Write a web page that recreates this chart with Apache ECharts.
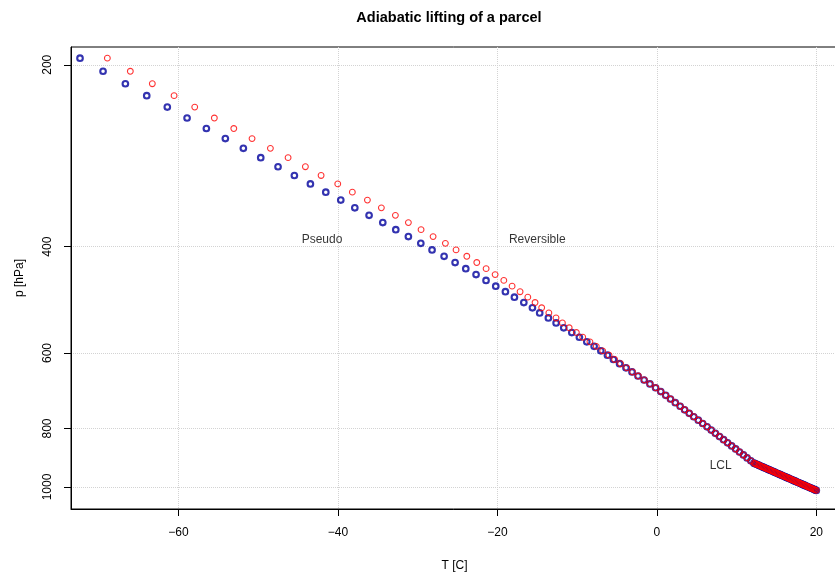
<!DOCTYPE html>
<html><head><meta charset="utf-8">
<script src="https://cdn.jsdelivr.net/npm/echarts@6/dist/echarts.min.js"></script>
<style>html,body{margin:0;padding:0;background:#fff}#c{width:835px;height:573px}</style>
</head><body><div id="c"></div>
<script>
// pressure levels [hPa]
const pressureLevels = [195,205,215,225,235,245,255,265,275,285,295,305,315,325,335,345,355,365,375,385,395,405,415,425,435,445,455,465,475,485,495,505,515,525,535,545,555,565,575,585,595,605,615,625,635,645,655,665,675,685,695,705,715,725,735,745,755,765,775,785,795,805,815,825,835,845,855,865,875,885,895,905,
913,915,917,919,921,923,925,927,929,931,933,935,937,939,941,943,945,947,949,951,953,955,957,959,961,963,965,967,969,971,973,975,977,979,981,983,985,987,989,991,993,995,997,999,1001,1003,1005,1007,1009,1011,1013];
// pseudo-adiabatic parcel temperature [C]
const tempPseudo = [-72.36,-69.47,-66.67,-63.99,-61.41,-58.93,-56.51,-54.13,-51.87,-49.69,-47.52,-45.47,-43.46,-41.53,-39.65,-37.89,-36.10,-34.38,-32.75,-31.17,-29.61,-28.20,-26.69,-25.31,-23.97,-22.68,-21.43,-20.21,-19.00,-17.87,-16.69,-15.61,-14.70,-13.61,-12.64,-11.68,-10.67,-9.72,-8.79,-7.87,-7.03,-6.20,-5.45,-4.68,-3.88,-3.12,-2.37,-1.60,-0.87,-0.16,0.49,1.11,1.71,2.31,2.92,3.48,4.06,4.63,5.20,5.75,6.30,6.82,7.34,7.86,8.37,8.87,9.38,9.88,10.37,10.86,11.32,11.79,
12.18,12.35,12.51,12.68,12.84,13.00,13.17,13.33,13.49,13.65,13.81,13.97,14.14,14.30,14.46,14.62,14.77,14.93,15.09,15.25,15.41,15.57,15.72,15.88,16.04,16.19,16.35,16.51,16.66,16.82,16.97,17.13,17.28,17.43,17.59,17.74,17.89,18.05,18.20,18.35,18.50,18.65,18.80,18.96,19.11,19.26,19.41,19.56,19.70,19.85,20.00];
// reversible-adiabatic parcel temperature [C]
const tempReversible = [-68.93,-66.05,-63.29,-60.56,-57.97,-55.51,-53.07,-50.78,-48.48,-46.26,-44.09,-42.12,-40.03,-38.20,-36.31,-34.56,-32.80,-31.17,-29.58,-28.07,-26.53,-25.19,-23.84,-22.59,-21.42,-20.29,-19.20,-18.16,-17.16,-16.19,-15.28,-14.45,-13.55,-12.65,-11.85,-11.00,-10.10,-9.30,-8.40,-7.60,-6.80,-6.00,-5.30,-4.55,-3.78,-3.05,-2.32,-1.58,-0.86,-0.15,0.49,1.11,1.71,2.31,2.92,3.48,4.06,4.63,5.20,5.75,6.30,6.82,7.34,7.86,8.37,8.87,9.38,9.88,10.37,10.86,11.32,11.79,
12.18,12.35,12.51,12.68,12.84,13.00,13.17,13.33,13.49,13.65,13.81,13.97,14.14,14.30,14.46,14.62,14.77,14.93,15.09,15.25,15.41,15.57,15.72,15.88,16.04,16.19,16.35,16.51,16.66,16.82,16.97,17.13,17.28,17.43,17.59,17.74,17.89,18.05,18.20,18.35,18.50,18.65,18.80,18.96,19.11,19.26,19.41,19.56,19.70,19.85,20.00];
const xTicks = [-60,-40,-20,0,20];
const yTicks = [200,400,600,800,1000];
const annotationText = ['Pseudo','Reversible','LCL'];
const annotationT = [-42,-15,8];
const annotationP = [390,390,921];

const FONT = '"Liberation Sans", Arial, Helvetica, sans-serif';
const pseudoData = pressureLevels.map((p,i)=>[tempPseudo[i], p]);
const revData = pressureLevels.map((p,i)=>[tempReversible[i], p]);
const annData = annotationText.map((t,i)=>({value:[annotationT[i], annotationP[i]], name:t}));

const chart = echarts.init(document.getElementById('c'), null, {renderer:'canvas'});
chart.setOption({
  animation:false,
  backgroundColor:'#fff',
  textStyle:{fontFamily:FONT},
  title:{text:'Adiabatic lifting of a parcel', left:444, top:5, textAlign:'center',
    textStyle:{fontFamily:FONT, fontSize:14.5, fontWeight:'bold', color:'#000'}},
  grid:{left:71, right:-3, top:47, bottom:64, show:true, borderColor:'#000', borderWidth:1,
    backgroundColor:'transparent', containLabel:false, outerBoundsMode:'none'},
  xAxis:{type:'value', min:-73.49, max:22.72,
    name:'T [C]', nameLocation:'middle', nameGap:51,
    nameTextStyle:{fontFamily:FONT, fontSize:12, color:'#000'},
    axisLine:{show:true, onZero:false, lineStyle:{color:'#000', width:1}},
    axisTick:{show:true, inside:false, length:7, customValues:xTicks, lineStyle:{color:'#000'}},
    axisLabel:{show:true, margin:18, customValues:xTicks, fontFamily:FONT, fontSize:12, color:'#000',
      formatter:v=>String(v).replace('-', '\u2212')},
    splitLine:{show:true, lineStyle:{color:'#d3d3d3', type:'dotted', width:1}}
  },
  yAxis:{type:'log', inverse:true, min:186.9, max:1087.4,
    name:'p [hPa]', nameLocation:'middle', nameGap:45, nameRotate:90,
    nameTextStyle:{fontFamily:FONT, fontSize:12, color:'#000'},
    axisLine:{show:true, onZero:false, lineStyle:{color:'#000', width:1}},
    axisTick:{show:true, inside:false, length:7, customValues:yTicks, lineStyle:{color:'#000'}},
    axisLabel:{show:true, rotate:90, margin:17, customValues:yTicks, fontFamily:FONT, fontSize:12, color:'#000',
      formatter:v=>String(Math.round(v))},
    splitLine:{show:true, lineStyle:{color:'#d3d3d3', type:'dotted', width:1}},
    minorTick:{show:false}, minorSplitLine:{show:false}
  },
  series:[
    {name:'Pseudo', type:'scatter', data:pseudoData, symbol:'circle', symbolSize:5.6,
      itemStyle:{color:'rgba(0,0,0,0)', borderColor:'#00009C', borderWidth:2.1},
      emphasis:{disabled:true}, silent:true, z:2},
    {name:'Reversible', type:'scatter', data:revData, symbol:'circle', symbolSize:5.8,
      itemStyle:{color:'rgba(0,0,0,0)', borderColor:'#FF0000', borderWidth:1.05},
      emphasis:{disabled:true}, silent:true, z:3},
    {name:'labels', type:'scatter', data:annData, symbolSize:1,
      itemStyle:{color:'rgba(0,0,0,0)'},
      label:{show:true, position:'inside', formatter:p=>p.name, fontFamily:FONT, fontSize:12, color:'#000'},
      emphasis:{disabled:true}, silent:true, z:4}
  ]
});
</script></body></html>
